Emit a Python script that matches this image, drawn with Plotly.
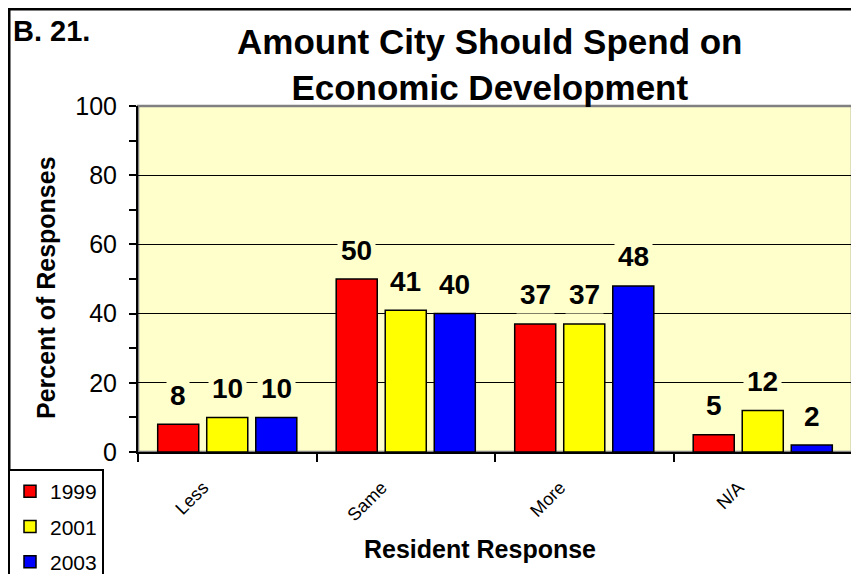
import plotly.graph_objects as go

categories = ["Less", "Same", "More", "N/A"]
years = ["1999", "2001", "2003"]
values_1999 = [8, 50, 37, 5]
values_2001 = [10, 41, 37, 12]
values_2003 = [10, 40, 48, 2]
colors = ["#FF0000", "#FFFF00", "#0000FF"]

series = [values_1999, values_2001, values_2003]

# page body has an 8px margin; target positions are given in screen pixels
OFF = 8
W, H = 859, 574
L, T = 138 - OFF, 106 - OFF
pw, ph = 852 - 138, 452 - 106
R = W - L - pw
B = H - T - ph

def px_x(x):
    return (x - OFF - L) / pw

def px_y(y):
    return (H - B - (y - OFF)) / ph

FONT = "Liberation Sans, Arial"

fig = go.Figure()
for name, vals, col in zip(years, series, colors):
    fig.add_trace(go.Bar(
        x=categories, y=vals, name=name, legendgroup=name,
        marker=dict(color=col, line=dict(color="black", width=1.5)),
    ))

annotations = []
for i, vals in enumerate(series):
    for cat, v in zip(categories, vals):
        annotations.append(dict(
            x=cat, y=v, xref="x", yref="y", text=f"<b>{v}</b>",
            showarrow=False, xshift=(i - 1) * 49, yshift=29,
            xanchor="center", yanchor="middle",
            font=dict(family=FONT, size=28, color="black"),
            bgcolor="#FFFFCC", borderpad=3,
        ))

annotations += [
    dict(x=px_x(490), y=px_y(64), xref="paper", yref="paper", xanchor="center",
         yanchor="middle", showarrow=False,
         text="<b>Amount City Should Spend on<br>Economic Development</b>",
         font=dict(family=FONT, size=35, color="black")),
    dict(x=px_x(11), y=px_y(31), xref="paper", yref="paper", xanchor="left",
         yanchor="middle", showarrow=False, text="<b>B. 21.</b>",
         font=dict(family=FONT, size=29, color="black")),
    dict(x=px_x(46), y=px_y(288), xref="paper", yref="paper", textangle=-90,
         xanchor="center", yanchor="middle",
         showarrow=False, text="<b>Percent of Responses</b>",
         font=dict(family=FONT, size=25, color="black")),
    dict(x=px_x(480), y=px_y(549), xref="paper", yref="paper",
         xanchor="center", yanchor="middle",
         showarrow=False, text="<b>Resident Response</b>",
         font=dict(family=FONT, size=25, color="black")),
]

shapes = [
    dict(type="rect", xref="paper", yref="paper", x0=px_x(9), x1=px_x(880),
         y0=px_y(600), y1=px_y(9), line=dict(color="black", width=3), layer="below"),
    dict(type="rect", xref="paper", yref="paper", x0=0, x1=1, y0=0, y1=1,
         line=dict(color="#808080", width=2.5), layer="below"),
]

fig.update_layout(
    width=W, height=H,
    margin=dict(l=L, r=R, t=T, b=B, autoexpand=False),
    paper_bgcolor="white", plot_bgcolor="#FFFFCC",
    barmode="group", bargap=0.176, bargroupgap=0.163,
    font=dict(family=FONT, color="black"),
    legend=dict(x=px_x(8), y=px_y(469), xanchor="left", yanchor="top",
                bordercolor="black", borderwidth=2, bgcolor="white",
                font=dict(size=21), itemwidth=30, tracegroupgap=5),
    annotations=annotations,
    shapes=shapes,
    showlegend=True,
)
fig.update_yaxes(range=[0, 100], dtick=20, showgrid=True, gridcolor="black",
                 gridwidth=1, showline=True, linecolor="black", linewidth=2,
                 ticks="outside", ticklen=7, tickwidth=2, tickcolor="black",
                 tickfont=dict(size=25), zeroline=False, ticklabelstandoff=7,
                 minor=dict(dtick=10, ticks="outside", ticklen=7, tickwidth=2,
                            tickcolor="black", showgrid=False))
fig.update_xaxes(showline=True, linecolor="black", linewidth=2,
                 ticks="outside", tickson="boundaries", ticklen=8, tickwidth=2,
                 tickcolor="black", tickangle=-45, tickfont=dict(size=18),
                 ticklabelstandoff=16, ticklabelshift=-24)

fig.write_html("out.html")
